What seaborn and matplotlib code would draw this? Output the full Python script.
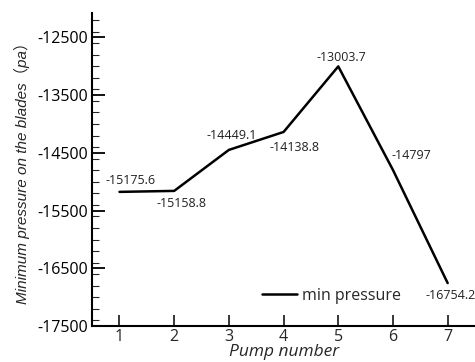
import matplotlib
matplotlib.use("Agg")
import matplotlib.pyplot as plt
import seaborn as sns
import pandas as pd
from matplotlib.ticker import MultipleLocator

pumps = [1, 2, 3, 4, 5, 6, 7]
min_pressure = [-15175.6, -15158.8, -14449.1, -14138.8, -13003.7, -14797, -16754.2]
point_labels = ["-15175.6", "-15158.8", "-14449.1", "-14138.8", "-13003.7", "-14797", "-16754.2"]
yticks = [-17500, -16500, -15500, -14500, -13500, -12500]

sns.set_theme(style="white")
plt.rcParams['font.family'] = ['Open Sans', 'Noto Sans CJK SC', 'DejaVu Sans']
plt.rcParams['axes.unicode_minus'] = False

df = pd.DataFrame({"Pump number": pumps, "min pressure": min_pressure})

fig = plt.figure(figsize=(4.75, 3.62), dpi=100)
ax = fig.add_axes([0.194, 0.099, 0.806, 0.865])
sns.lineplot(data=df, x="Pump number", y="min pressure", ax=ax, color="black",
             linewidth=1.8, label="min pressure")

ax.set_xlim(0.5, 7.5)
ax.set_ylim(-17500, -12080)
ax.set_xticks(pumps)
ax.set_yticks(yticks)
ax.yaxis.set_minor_locator(MultipleLocator(200))
ax.tick_params(axis="y", which="major", direction="in", length=9, width=1.3, labelsize=11.5, colors="black", left=True, pad=3)
ax.tick_params(axis="y", which="minor", direction="in", length=5, width=0.8, left=True)
ax.tick_params(axis="x", which="major", direction="in", length=8, width=1.3, labelsize=11.5, bottom=True, pad=2)
for s in ["top", "right"]:
    ax.spines[s].set_visible(False)
for s in ["left", "bottom"]:
    ax.spines[s].set_color("black")
    ax.spines[s].set_linewidth(1.5)

offsets = [(11, 11), (7, -13), (3, 14), (11, -16), (3, 9), (18, 15), (3, -12)]
for x, y, t, (dx, dy) in zip(pumps, min_pressure, point_labels, offsets):
    ax.annotate(t, (x, y), xytext=(dx, dy), textcoords="offset pixels",
                ha="center", va="center", fontsize=9, color="#222222")

ax.set_xlabel("Pump number", fontstyle="italic", fontsize=12.5, labelpad=-1)
ax.set_ylabel("Minimum pressure on the blades（pa）", fontstyle="italic", fontsize=11,
              family=['Liberation Sans', 'Noto Sans CJK SC'], labelpad=5)

leg = ax.legend(loc="lower left", bbox_to_anchor=(0.405, 0.025), frameon=False,
                fontsize=11.5, handlelength=2.2, handletextpad=0.35)

fig.savefig("out.png", dpi=100, facecolor="white")
